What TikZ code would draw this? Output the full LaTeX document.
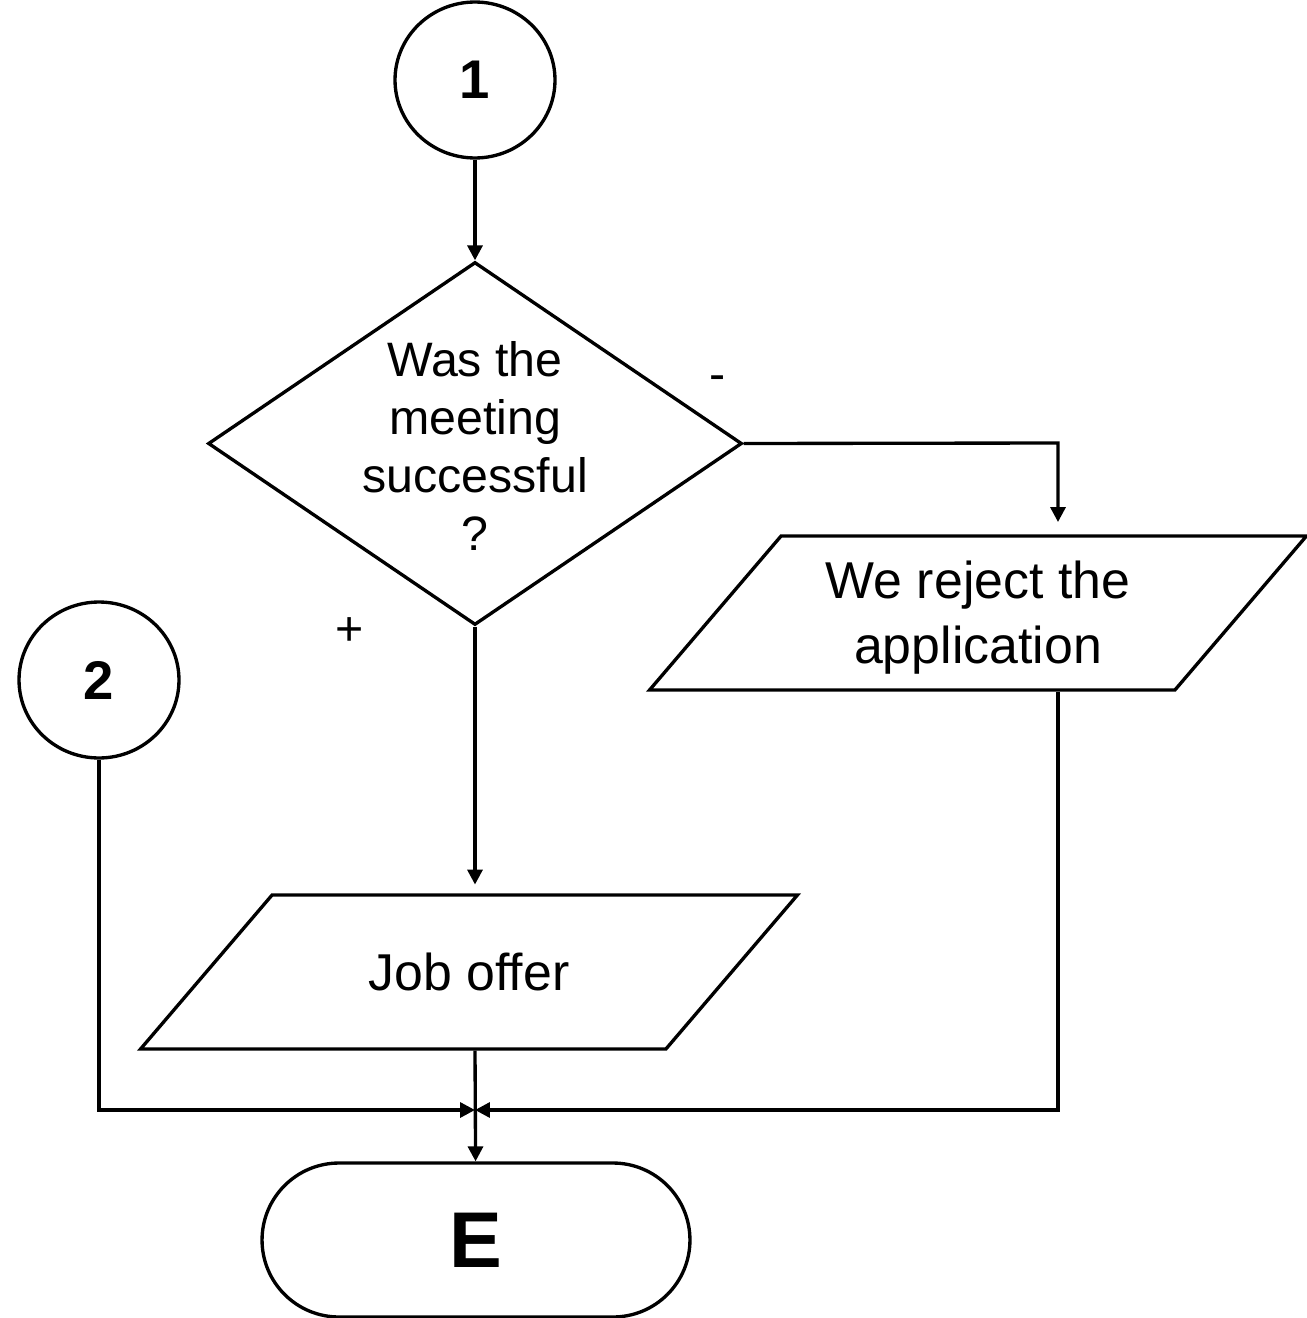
\documentclass[tikz,border=0pt]{standalone}
\usepackage{fontspec}
\setmainfont{Liberation Sans}
\usetikzlibrary{shapes.geometric,arrows.meta}
\begin{document}
\begin{tikzpicture}[x=0.02cm,y=-0.02cm,line width=1.9pt,>={Triangle[length=8.5pt,width=8.5pt]},
    conn/.style={draw,ellipse,inner sep=0pt,minimum width=3.2cm,minimum height=3.12cm,font=\fontsize{31}{36}\selectfont\bfseries},
    iobox/.style={draw,trapezium,trapezium left angle=49.5,trapezium right angle=130.5,trapezium stretches body=true,minimum width=13.14cm,inner xsep=0pt,inner ysep=1.54cm},
    iotxt/.style={align=center,font=\fontsize{29.5}{37}\selectfont},
    txt/.style={font=\fontsize{27.5}{33}\selectfont}]
    \useasboundingbox (0,0) rectangle (1307,1318);
    \node[conn] (c1) at (475,80) {1};
    \node[conn] (c2) at (99,680) {2};
    \node[draw,diamond,minimum width=10.68cm,minimum height=7.26cm,inner sep=0pt] (dia) at (475,443.5) {};
    \node[txt,align=center] (q) at (475,446) {Was the\\meeting\\successful\\?};
    \node[iobox] (rej) at (978,613) {};
    \node[iotxt] (rejtxt) at (978,618) {We reject the\\application};
    \node[iobox] (job) at (469,972) {};
    \node[iotxt] (jobtxt) at (469,972) {Job offer};
    \node[draw,rectangle,rounded corners=1.54cm,minimum width=8.56cm,minimum height=3.08cm,font=\fontsize{45}{50}\selectfont\bfseries] (e) at (476,1240) {E};
    \node[txt] (minus) at (718,383) {-};
    \node[txt] (plus) at (350,632) {+};
    \coordinate (rx) at (1058,443);
    \coordinate (jn) at (475,1110);
    \draw[->] (c1) -- (dia);
    \draw[->,shorten >=7pt] (dia.east) -- (rx) -- (rej.north -| rx);
    \draw[->,shorten >=5pt] (dia.south) -- (job.north -| dia.south);
    \draw[->] (c2) |- (jn);
    \draw[->] (rej.south -| rx) |- (jn);
    \draw[->] (job.south -| jn) -- (e);
\end{tikzpicture}
\end{document}
